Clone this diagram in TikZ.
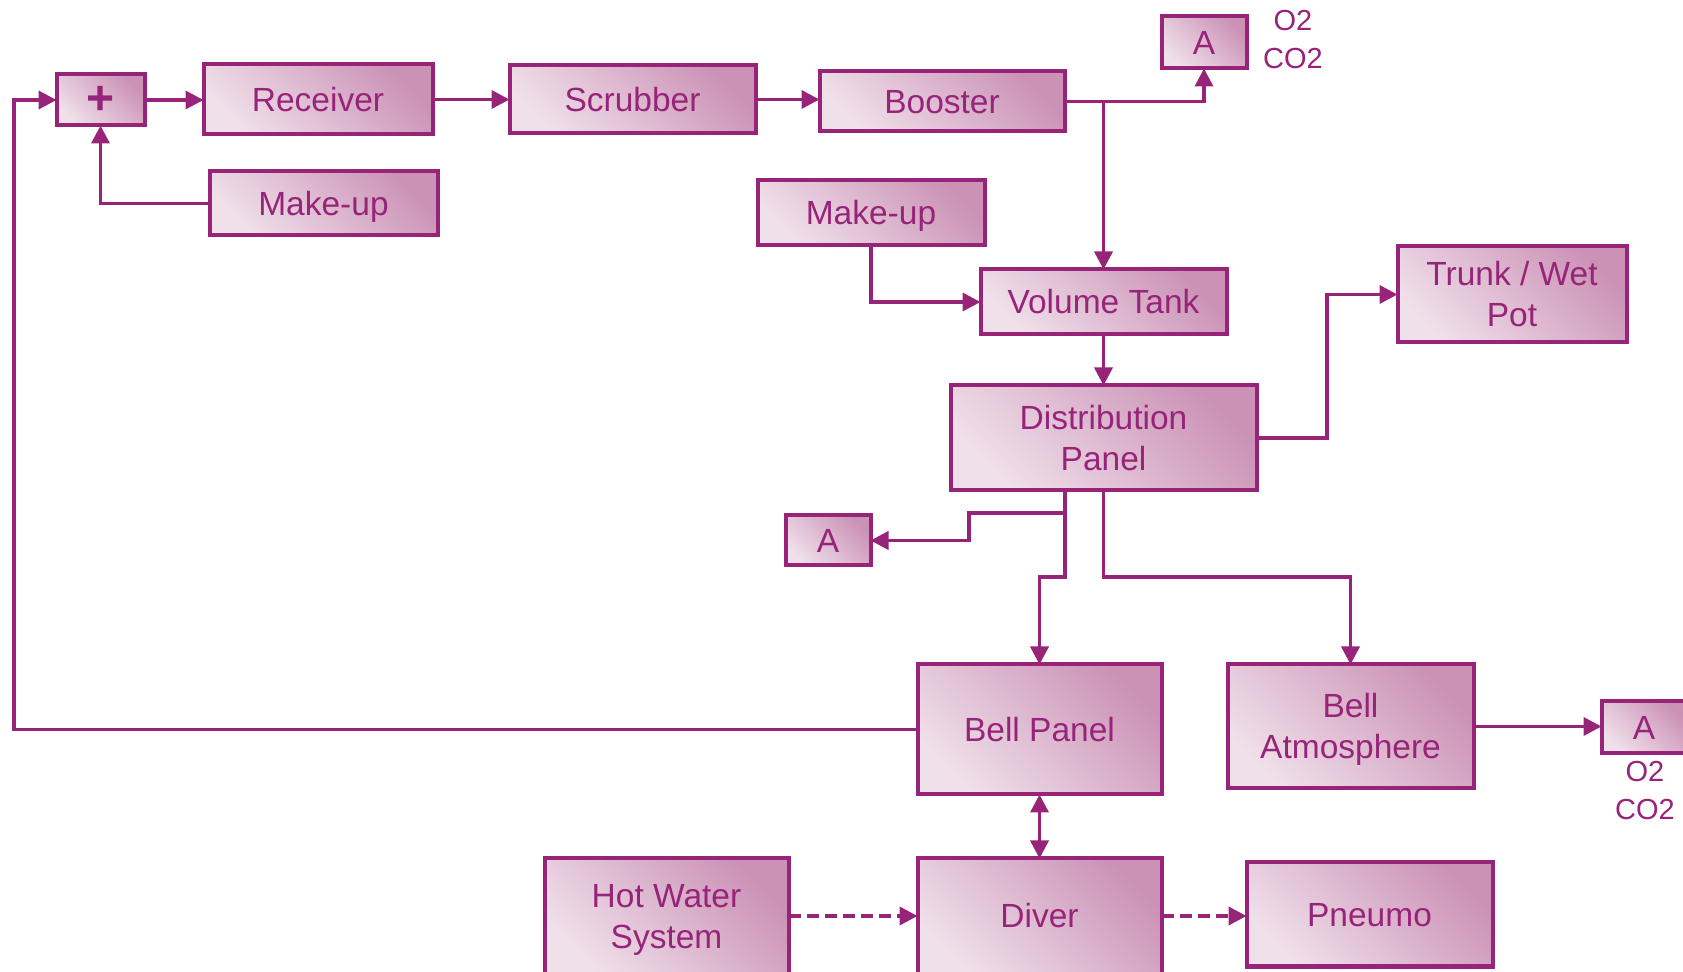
\documentclass[tikz,border=0pt]{standalone}
\usepackage{fontspec}
\setmainfont{Liberation Sans}
\usetikzlibrary{arrows.meta}
\definecolor{pur}{RGB}{152,36,122}
\definecolor{pdark}{RGB}{203,146,182}
\definecolor{plight}{RGB}{240,224,234}
\begin{document}
\begin{tikzpicture}[x=0.5pt,y=-0.5pt,
  box/.style={draw=pur, line width=2pt, top color=pdark, bottom color=plight, shading angle=-45,
    text=pur, font=\fontsize{16.75}{20.5}\selectfont, align=center, inner sep=0pt, outer sep=0pt},
  oneline/.style={text height=12pt, text depth=0pt},
  twoline/.style={text height=32.5pt, text depth=0pt},
  conn/.style={draw=pur, line width=1.8pt, -{Triangle[length=9pt,width=9pt]}},
  both/.style={draw=pur, line width=1.8pt, {Triangle[length=9pt,width=9pt]}-{Triangle[length=9pt,width=9pt]}},
  dconn/.style={conn, line width=2pt, dash pattern=on 6pt off 3pt},
  gas/.style={text=pur, font=\fontsize{14.5}{19}\selectfont, align=center, inner sep=0pt}
]
\useasboundingbox (0,0) rectangle (1683,972);

% nodes
\node[box, minimum width=44pt, minimum height=25.5pt, font=\fontsize{24}{26}\selectfont\bfseries] (plus) at (100.5,100) {+};
\node[box, oneline, minimum width=114.5pt, minimum height=35pt] (rec) at (318,99.5) {Receiver};
\node[box, oneline, minimum width=114pt, minimum height=32pt] (mu1) at (323.5,203.5) {Make-up};
\node[box, oneline, minimum width=123pt, minimum height=34pt] (scr) at (632.5,99.5) {Scrubber};
\node[box, oneline, minimum width=122.5pt, minimum height=30pt] (boo) at (942,101.5) {Booster};
\node[box, oneline, minimum width=42.5pt, minimum height=26pt] (atop) at (1204,42.5) {A};
\node[gas] (gtop) at (1293,40) {O2\\CO2};
\node[box, oneline, minimum width=113.5pt, minimum height=32.5pt] (mu2) at (871,213) {Make-up};
\node[box, oneline, minimum width=123pt, minimum height=32.5pt] (vt) at (1103.5,302) {Volume Tank};
\node[box, twoline, minimum width=153pt, minimum height=52.5pt] (dp) at (1103.5,438) {Distribution\\Panel};
\node[box, twoline, minimum width=114.5pt, minimum height=48pt] (trunk) at (1512,294.5) {Trunk / Wet\\Pot};
\node[box, oneline, minimum width=42.5pt, minimum height=25pt] (amid) at (828,540.5) {A};
\node[box, oneline, minimum width=122pt, minimum height=65pt] (bp) at (1039.5,729.5) {Bell Panel};
\node[box, twoline, minimum width=123pt, minimum height=62pt] (ba) at (1350.5,726.5) {Bell\\Atmosphere};
\node[box, oneline, minimum width=42.5pt, minimum height=26pt] (aright) at (1644,727.5) {A};
\node[gas] (gright) at (1645,791) {O2\\CO2};
\node[box, oneline, minimum width=123pt, minimum height=52pt] (pneu) at (1369.5,914.5) {Pneumo};
\node[box, oneline, minimum width=122pt, minimum height=57.5pt] (diver) at (1039.5,916) {Diver};
\node[box, twoline, minimum width=122pt, minimum height=57.5pt] (hw) at (666.5,916) {Hot Water\\System};

% helper coordinates
\coordinate (lc) at (14,729.5);
\coordinate (tk) at (1327,438);
\coordinate (j1) at (1065,577);
\coordinate (j2) at (1065,513);
\coordinate (j3) at (969,513);
\coordinate (j4) at (1103.5,577);

% connectors
\draw[conn] (bp.west) -- (lc) |- (plus.west);
\draw[conn] (plus.east) -- (plus.east -| rec.west);
\draw[conn] (mu1.west) -| (plus.south);
\draw[conn] (rec.east) -- (rec.east -| scr.west);
\draw[conn] (scr.east) -- (scr.east -| boo.west);
\draw[conn] (boo.east) -| (atop.south);
\draw[conn] (boo.east -| vt.north) -- (vt.north);
\draw[conn] (mu2.south) |- (vt.west);
\draw[conn] (vt.south) -- (dp.north);
\draw[conn] (dp.east) -- (tk) |- (trunk.west);
\draw[conn] (dp.south -| j1) -- (j1) -| (bp.north);
\draw[conn] (j2) -- (j3) |- (amid.east);
\draw[conn] (dp.south) -- (j4) -| (ba.north);
\draw[conn] (ba.east) -- (ba.east -| aright.west);
\draw[both] (bp.south) -- (diver.north);
\draw[dconn] (hw.east) -- (diver.west);
\draw[dconn] (diver.east) -- (diver.east -| pneu.west);
\end{tikzpicture}
\end{document}
